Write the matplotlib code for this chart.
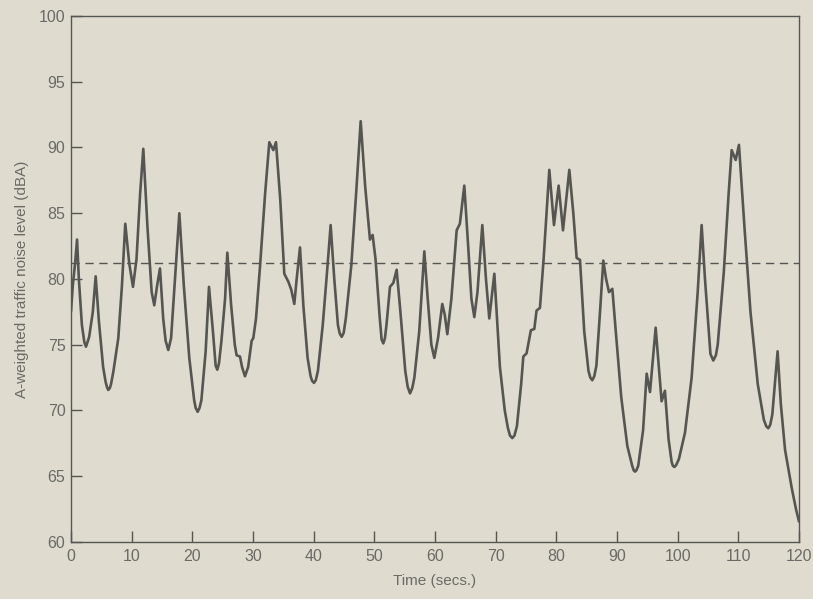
import matplotlib
matplotlib.use("Agg")
import matplotlib.pyplot as plt

time_s = [0.0, 0.3, 0.7, 1.0, 1.3, 1.8, 2.2, 2.47, 2.8, 3.0, 3.6, 4.07, 4.6, 5.3, 5.7,
          5.95, 6.15, 6.4, 6.6, 7.0, 7.8, 8.4, 8.95, 9.6, 10.22, 10.8, 11.4, 11.92, 12.6,
          13.3, 13.73, 14.2, 14.67, 15.2, 15.6, 16.04, 16.5, 17.0, 17.86, 18.6, 19.5,
          20.3, 20.55, 20.88, 21.2, 21.5, 22.2, 22.75, 23.4, 23.85, 24.12, 24.4, 24.8,
          25.4, 25.77, 26.4, 27.0, 27.3, 27.86, 28.2, 28.68, 29.2, 29.78, 30.05, 30.5,
          31.15, 32.0, 32.69, 33.35, 33.79, 34.5, 35.16, 35.82, 36.3, 36.81, 37.2, 37.75,
          38.3, 39.0, 39.5, 39.75, 40.05, 40.35, 40.7, 41.5, 42.2, 42.8, 43.4, 44.0, 44.3,
          44.62, 44.95, 45.3, 46.2, 47.0, 47.75, 48.5, 49.28, 49.72, 50.2, 50.9, 51.2,
          51.48, 51.75, 52.0, 52.58, 53.13, 53.68, 54.3, 55.1, 55.5, 55.88, 56.25, 56.6,
          57.4, 58.24, 58.8, 59.4, 59.89, 60.5, 61.2, 61.6, 62.03, 62.7, 63.57, 64.1,
          64.83, 65.4, 66.0, 66.48, 67.0, 67.8, 68.4, 68.95, 69.78, 70.2, 70.7, 71.5,
          72.0, 72.35, 72.74, 73.1, 73.5, 74.2, 74.56, 75.1, 75.8, 76.37, 76.74, 77.3,
          77.9, 78.84, 79.61, 80.38, 81.1, 82.14, 82.8, 83.35, 83.9, 84.6, 85.3, 85.6,
          85.93, 86.25, 86.6, 87.2, 87.74, 88.2, 88.68, 89.23, 89.8, 90.7, 91.7, 92.5,
          92.75, 92.96, 93.2, 93.5, 94.3, 94.89, 95.44, 96.37, 97.35, 97.9, 98.5, 99.0,
          99.2, 99.45, 99.75, 100.2, 101.2, 102.3, 103.3, 103.95, 104.5, 105.4, 105.87,
          106.3, 106.6, 107.6, 108.4, 108.9, 109.56, 110.1, 111.0, 112.0, 113.2, 114.2,
          114.6, 114.93, 115.25, 115.6, 116.47, 117.0, 117.7, 118.8, 119.5, 120.0]

noise_dba = [77.5, 79.5, 81.3, 83.0, 80.0, 76.5, 75.2, 74.85, 75.3, 75.6, 77.5, 80.2, 76.8,
             73.3, 72.2, 71.75, 71.56, 71.7, 72.0, 73.0, 75.5, 79.5, 84.2, 81.2, 79.4,
             81.5, 86.5, 89.9, 84.0, 79.0, 78.0, 79.5, 80.8, 77.0, 75.3, 74.6, 75.5, 79.0,
             85.0, 79.5, 74.0, 70.8, 70.2, 69.9, 70.2, 70.8, 74.5, 79.4, 76.0, 73.4, 73.1,
             73.6, 75.3, 78.5, 82.0, 78.0, 75.0, 74.2, 74.1, 73.3, 72.6, 73.3, 75.3, 75.5,
             77.0, 80.9, 86.5, 90.4, 89.8, 90.4, 86.0, 80.4, 79.8, 79.2, 78.1, 80.0, 82.4,
             78.0, 74.0, 72.6, 72.25, 72.1, 72.3, 73.0, 76.5, 80.5, 84.1, 80.0, 76.5,
             75.85, 75.6, 75.9, 77.0, 81.0, 86.5, 92.0, 87.0, 83.0, 83.35, 81.5, 77.0,
             75.4, 75.1, 75.5, 76.5, 79.4, 79.7, 80.7, 77.5, 73.0, 71.8, 71.3, 71.7, 72.5,
             76.0, 82.1, 78.5, 75.0, 74.0, 75.5, 78.1, 77.3, 75.8, 78.5, 83.7, 84.2, 87.1,
             83.0, 78.5, 77.1, 79.0, 84.1, 80.0, 77.0, 80.4, 77.1, 73.3, 70.0, 68.7, 68.1,
             67.9, 68.1, 68.8, 72.0, 74.1, 74.35, 76.1, 76.2, 77.6, 77.8, 81.5, 88.3, 84.1,
             87.1, 83.7, 88.3, 85.0, 81.6, 81.45, 76.0, 73.0, 72.5, 72.3, 72.6, 73.4, 77.5,
             81.4, 80.0, 79.0, 79.25, 76.0, 71.0, 67.3, 65.8, 65.45, 65.35, 65.45, 65.8,
             68.5, 72.8, 71.4, 76.3, 70.7, 71.5, 67.8, 66.1, 65.8, 65.7, 65.85, 66.3, 68.3,
             72.5, 79.0, 84.1, 80.0, 74.3, 73.8, 74.2, 75.0, 80.5, 86.5, 89.8, 89.05, 90.2,
             84.0, 77.5, 72.0, 69.3, 68.8, 68.65, 68.9, 69.7, 74.5, 70.5, 67.0, 64.1, 62.5,
             61.55]

mean_level = 81.2
x_ticks = [0, 10, 20, 30, 40, 50, 60, 70, 80, 90, 100, 110, 120]
y_ticks = [60, 65, 70, 75, 80, 85, 90, 95, 100]

plt.rcParams['font.family'] = ['Liberation Sans', 'DejaVu Sans']
bg = '#dfdccf'
ink = '#555552'
txt = '#6a6a66'

fig = plt.figure(figsize=(8.13, 5.99), dpi=100, facecolor=bg)
ax = fig.add_axes([0.0873, 0.0952, 0.8955, 0.8781])
ax.set_facecolor(bg)

ax.plot(time_s, noise_dba, color=ink, lw=1.9, solid_joinstyle='round', solid_capstyle='round')
ax.axhline(mean_level, color=ink, lw=1.0, linestyle=(0, (6, 4)))

ax.set_xlim(0, 120)
ax.set_ylim(60, 100)
ax.set_xticks(x_ticks)
ax.set_yticks(y_ticks)
ax.tick_params(direction='in', length=8, width=1, color=ink, labelcolor=txt,
               labelsize=11.5, top=False, right=False)
ax.tick_params(axis='x', pad=5)
ax.tick_params(axis='y', pad=4)
for s in ax.spines.values():
    s.set_color(ink)
    s.set_linewidth(1.0)

ax.set_xlabel('Time (secs.)', color=txt, fontsize=11, labelpad=7)
ax.set_ylabel('A-weighted traffic noise level (dBA)', color=txt, fontsize=11, labelpad=7)

fig.savefig('out.png', dpi=100, facecolor=bg)
